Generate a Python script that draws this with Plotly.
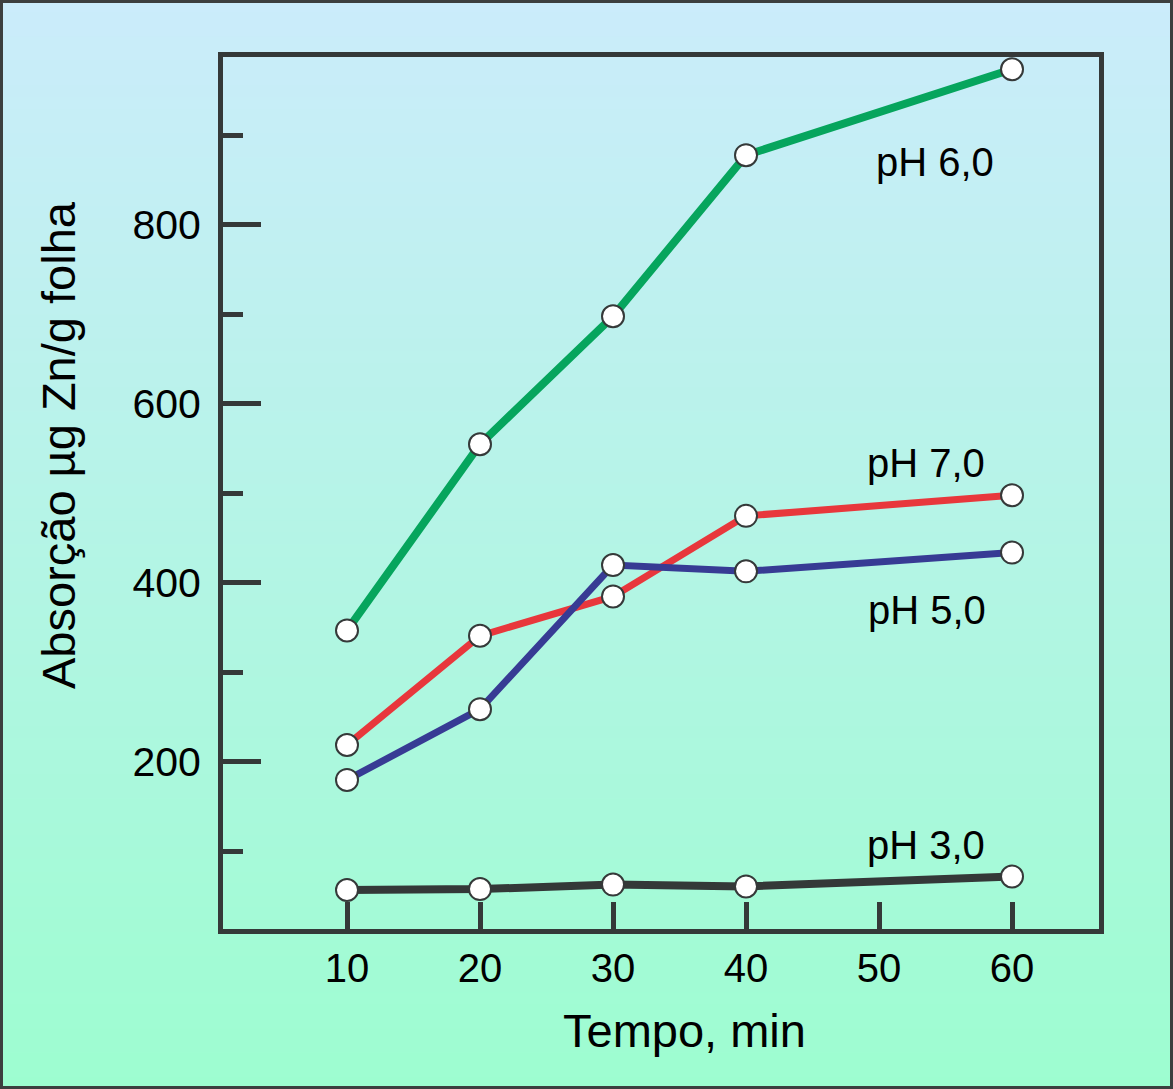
import plotly.graph_objects as go

# ---- data ----
tempo = [10, 20, 30, 40, 60]
ph6 = [347, 555, 698, 878, 974]
ph7 = [219, 341, 385, 475, 498]
ph5 = [180, 259, 420, 413, 434]
ph3 = [57, 58, 63, 61, 72]

series_names = ["pH 6,0", "pH 7,0", "pH 5,0", "pH 3,0"]
series_vals = [ph6, ph7, ph5, ph3]
series_colors = ["#06a55d", "#e8373c", "#373b94", "#343838"]
series_widths = [8, 7, 7, 8]

label_x = [54.2, 53.5, 53.6, 53.5]
label_y = [870, 534, 370, 107]

x_ticks = [10, 20, 30, 40, 50, 60]
y_ticks = [200, 400, 600, 800]

W, H = 1173, 1089
L, R, T, B = 223, 74, 57, 160
PW, PH = W - L - R, H - T - B
FRAME = "#353939"
FONT = "Liberation Sans, Arial, sans-serif"

fig = go.Figure()
for name, vals, col, lw in zip(series_names, series_vals, series_colors, series_widths):
    fig.add_trace(go.Scatter(
        x=tempo, y=vals, mode="lines+markers", name=name,
        line=dict(color=col, width=lw),
        marker=dict(size=22, color="white", line=dict(color=FRAME, width=2)),
        showlegend=False, cliponaxis=False,
    ))

for name, lx, ly in zip(series_names, label_x, label_y):
    fig.add_annotation(x=lx, y=ly, xref="x", yref="y", text=name, showarrow=False,
                       font=dict(size=40, color="black", family=FONT),
                       xanchor="center", yanchor="middle")

# gradient background
def px_to_py(p):
    return (H - B - p) / PH

def px_to_px(p):
    return (p - L) / PW

top_c = (203, 236, 251)
bot_c = (157, 253, 208)
N = 90
shapes = []
for i in range(N):
    p0 = H * i / N
    p1 = H * (i + 1) / N + 1
    t = (i + 0.5) / N
    c = tuple(round(a + (b - a) * t) for a, b in zip(top_c, bot_c))
    shapes.append(dict(type="rect", xref="paper", yref="paper", layer="below",
                       x0=px_to_px(0), x1=px_to_px(W), y0=px_to_py(p0), y1=px_to_py(p1),
                       fillcolor="rgb(%d,%d,%d)" % c, line=dict(width=0)))
# outer border
shapes.append(dict(type="rect", xref="paper", yref="paper", layer="above",
                   x0=px_to_px(1.5), x1=px_to_px(W - 1.5), y0=px_to_py(1.5), y1=px_to_py(H - 1.5),
                   line=dict(color="#3c3f3f", width=3), fillcolor="rgba(0,0,0,0)"))

fig.update_layout(
    width=W, height=H,
    margin=dict(l=L, r=R, t=T, b=B),
    paper_bgcolor="rgba(0,0,0,0)", plot_bgcolor="rgba(0,0,0,0)",
    shapes=shapes,
    font=dict(family=FONT, color="black"),
)

fig.update_xaxes(
    range=[0.677, 66.54], tickvals=x_ticks, ticks="inside", ticklen=27, tickwidth=5,
    tickcolor=FRAME, showline=True, linecolor=FRAME, linewidth=5, mirror=True,
    showgrid=False, zeroline=False, tickfont=dict(size=40, family=FONT),
    ticklabelstandoff=0,
)
fig.update_yaxes(
    range=[13.4, 987.7], tickvals=y_ticks, ticks="inside", ticklen=38, tickwidth=5,
    tickcolor=FRAME, showline=True, linecolor=FRAME, linewidth=5, mirror=True,
    showgrid=False, zeroline=False, tickfont=dict(size=41, family=FONT),
    ticklabelstandoff=9,
    minor=dict(tickvals=[100, 300, 500, 700, 900], ticks="inside", ticklen=20,
               tickwidth=5, tickcolor=FRAME, showgrid=False),
)

fig.add_annotation(x=px_to_px(58), y=px_to_py(445), xref="paper", yref="paper",
                   text="Absorção µg Zn/g folha", textangle=-90, showarrow=False,
                   font=dict(size=47, color="black", family=FONT),
                   xanchor="center", yanchor="middle")
fig.add_annotation(x=px_to_px(684), y=px_to_py(1030), xref="paper", yref="paper",
                   text="Tempo, min", showarrow=False,
                   font=dict(size=47, color="black", family=FONT),
                   xanchor="center", yanchor="middle")

fig.write_html("out.html", config={"displayModeBar": False},
               post_script="document.body.style.margin='0';document.body.style.padding='0';")
